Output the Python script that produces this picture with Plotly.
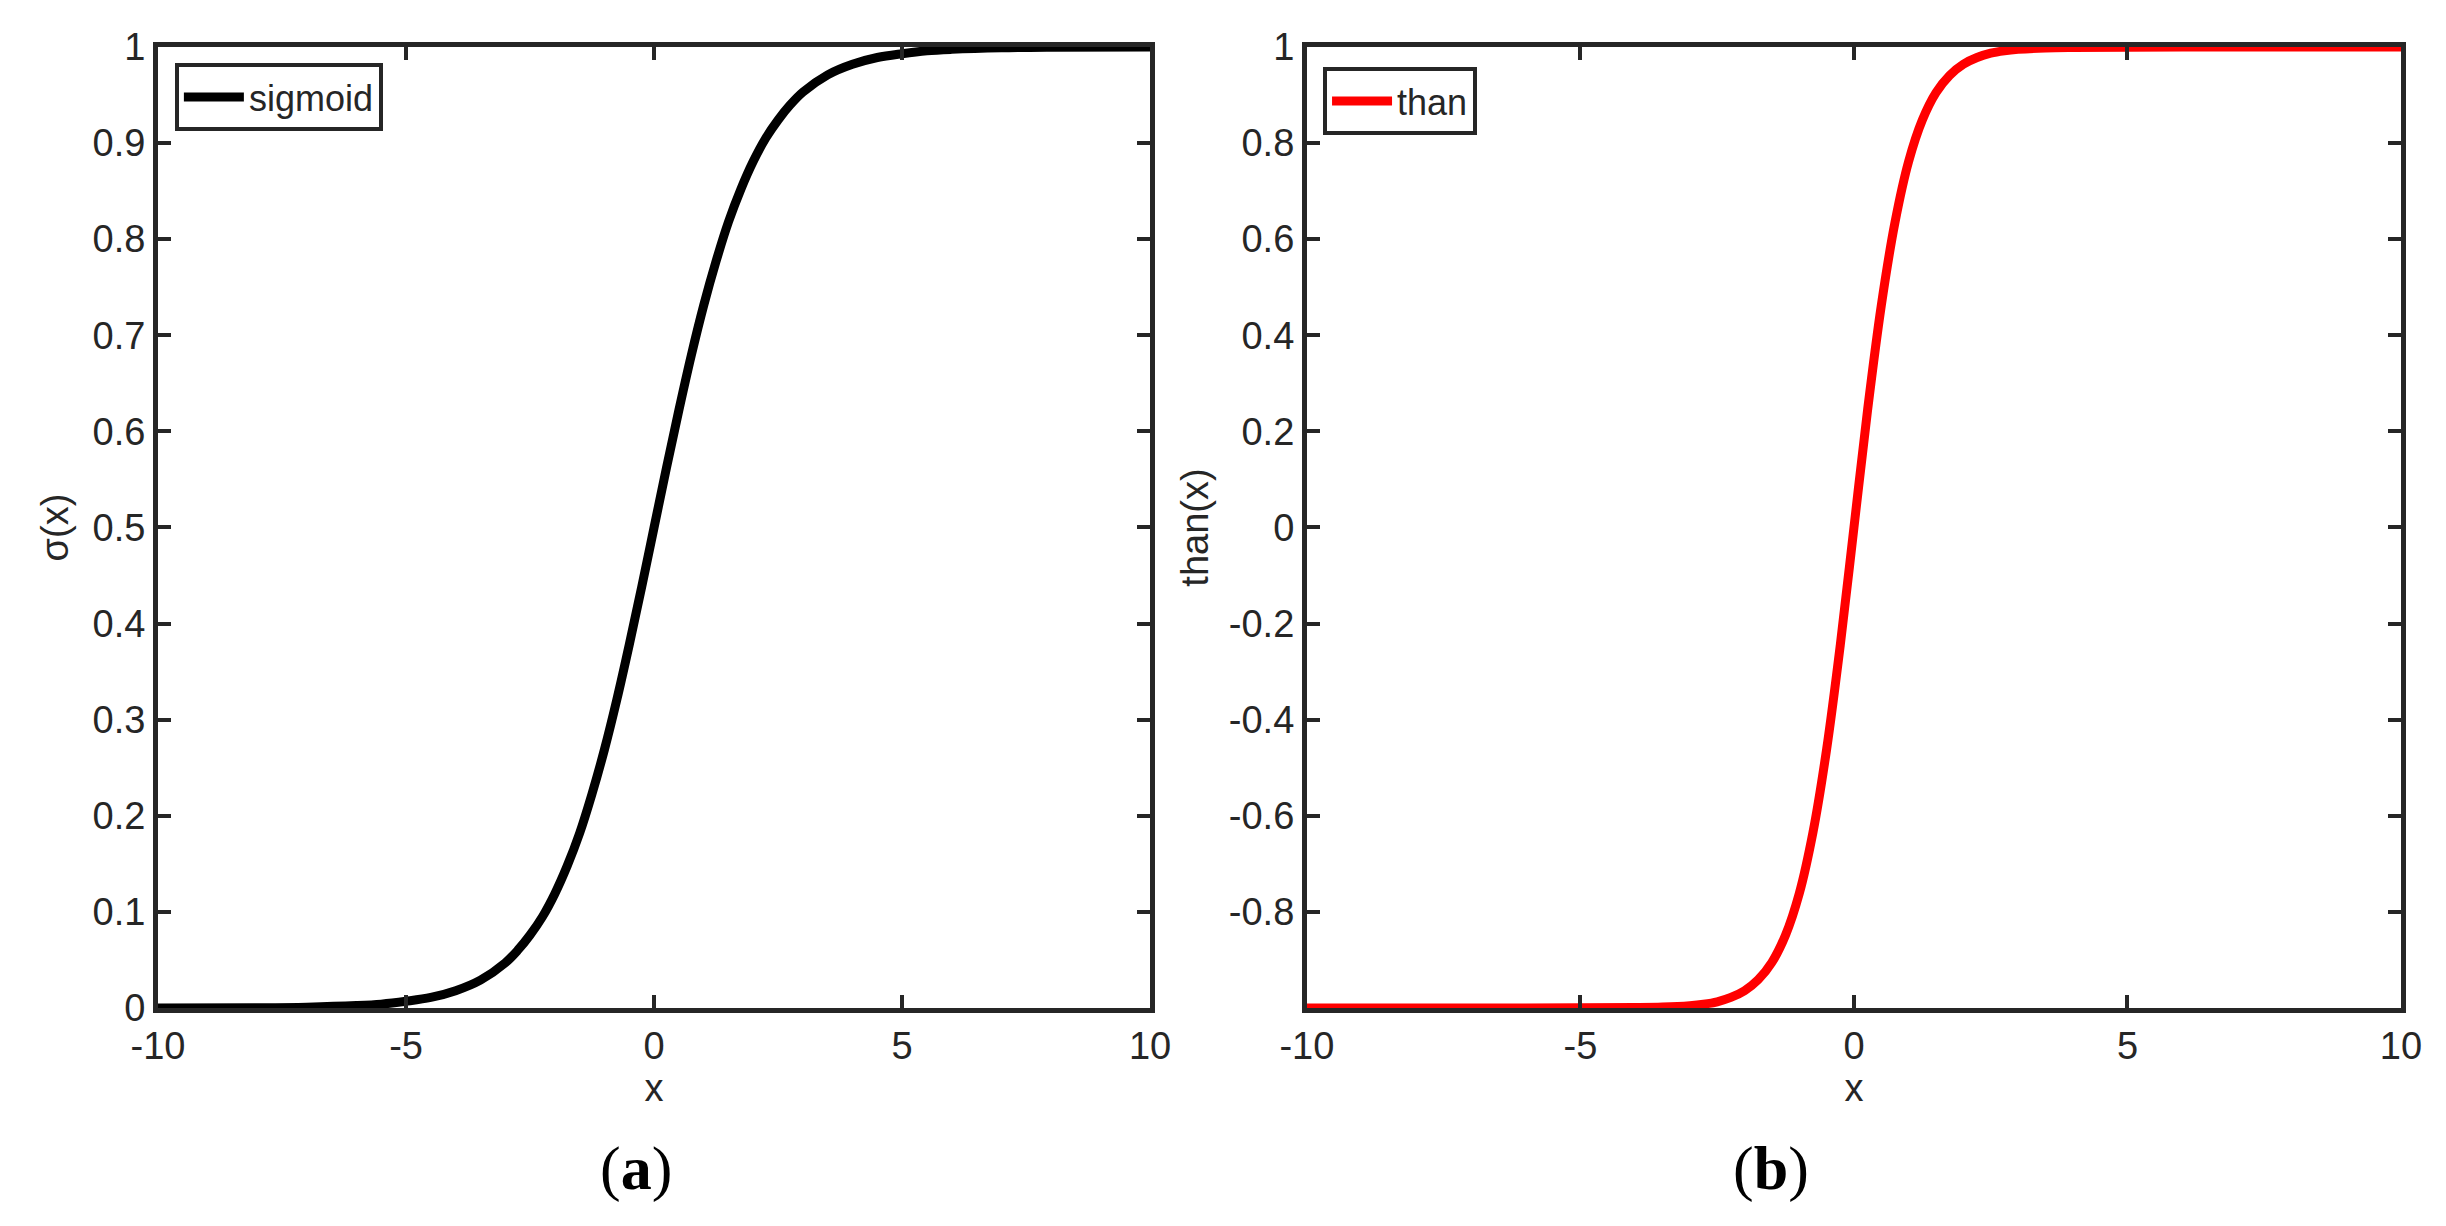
import plotly.graph_objects as go

# values
sig_x = [-10, -8, -7, -6, -5.5, -5, -4.5, -4, -3.5, -3, -2.75, -2.5, -2.25, -2, -1.75, -1.5,
         -1.25, -1, -0.75, -0.5, -0.25, 0, 0.25, 0.5, 0.75, 1, 1.25, 1.5, 1.75, 2, 2.25, 2.5,
         2.75, 3, 3.5, 4, 4.5, 5, 5.5, 6, 7, 8, 10]
sig_y = [0.0, 0.0003, 0.0009, 0.0025, 0.004, 0.007, 0.011, 0.018, 0.029, 0.047, 0.060, 0.076,
         0.095, 0.119, 0.148, 0.182, 0.223, 0.269, 0.321, 0.378, 0.438, 0.5, 0.562, 0.622,
         0.679, 0.731, 0.777, 0.818, 0.852, 0.881, 0.905, 0.924, 0.940, 0.953, 0.971, 0.982,
         0.989, 0.993, 0.996, 0.9975, 0.9991, 0.9997, 1.0]

tanh_x = [-10, -6, -4, -3.5, -3, -2.75, -2.5, -2.25, -2, -1.75, -1.5, -1.25, -1, -0.75, -0.5, -0.25, 0,
          0.25, 0.5, 0.75, 1, 1.25, 1.5, 1.75, 2, 2.25, 2.5, 2.75, 3, 3.5, 4, 6, 10]
tanh_y = [-1.0, -1.0, -0.999, -0.998, -0.995, -0.992, -0.987, -0.978, -0.964, -0.941, -0.905,
          -0.848, -0.762, -0.635, -0.462, -0.245, 0.0, 0.245, 0.462, 0.635, 0.762, 0.848, 0.905,
          0.941, 0.964, 0.978, 0.987, 0.992, 0.995, 0.998, 0.999, 1.0, 1.0]

x_ticks = [-10, -5, 0, 5, 10]
x_labels = ["-10", "-5", "0", "5", "10"]
sig_ticks = [0, 0.1, 0.2, 0.3, 0.4, 0.5, 0.6, 0.7, 0.8, 0.9, 1]
sig_labels = ["0", "0.1", "0.2", "0.3", "0.4", "0.5", "0.6", "0.7", "0.8", "0.9", "1"]
tanh_ticks = [-0.8, -0.6, -0.4, -0.2, 0, 0.2, 0.4, 0.6, 0.8, 1]
tanh_labels = ["-0.8", "-0.6", "-0.4", "-0.2", "0", "0.2", "0.4", "0.6", "0.8", "1"]

TXT = "#262626"
FONT = "Liberation Sans"

fig = go.Figure()

fig.add_trace(go.Scatter(
    x=sig_x, y=sig_y, mode="lines", name="sigmoid", showlegend=True,
    line=dict(color="black", width=9, shape="spline", smoothing=1.0),
    xaxis="x", yaxis="y", legend="legend",
))
fig.add_trace(go.Scatter(
    x=tanh_x, y=tanh_y, mode="lines", name="than", showlegend=True,
    line=dict(color="#ff0000", width=9, shape="spline", smoothing=1.0),
    xaxis="x2", yaxis="y2", legend="legend2",
))

axis_style = dict(
    showline=True, linecolor=TXT, linewidth=5, mirror="ticks",
    ticks="inside", ticklen=13, tickwidth=4, tickcolor=TXT,
    showgrid=False, zeroline=False, automargin=False,
    tickfont=dict(family=FONT, size=38, color=TXT),
)
title_font = dict(family=FONT, size=38, color=TXT)

legend_style = dict(
    xanchor="left", yanchor="top",
    bgcolor="white", bordercolor=TXT, borderwidth=4,
    font=dict(family=FONT, size=36, color=TXT),
    itemwidth=60, tracegroupgap=0,
)

fig.update_layout(
    width=2446, height=1226,
    margin=dict(l=0, r=0, t=0, b=0, autoexpand=False),
    paper_bgcolor="white", plot_bgcolor="white",
    showlegend=True,
    xaxis=dict(domain=[0.0646, 0.4702], range=[-10, 10], tickvals=x_ticks, ticktext=x_labels,
               title=dict(text="x", font=title_font, standoff=10), anchor="y", **axis_style),
    yaxis=dict(domain=[0.1778, 0.9617], range=[0, 1], tickvals=sig_ticks, ticktext=sig_labels,
               title=dict(text="σ(x)", font=title_font, standoff=14), anchor="x", **axis_style),
    xaxis2=dict(domain=[0.5343, 0.9816], range=[-10, 10], tickvals=x_ticks, ticktext=x_labels,
                title=dict(text="x", font=title_font, standoff=10), anchor="y2", **axis_style),
    yaxis2=dict(domain=[0.1778, 0.9617], range=[-1, 1], tickvals=tanh_ticks, ticktext=tanh_labels,
                title=dict(text="than(x)", font=title_font, standoff=10), anchor="x2", **axis_style),
    legend=dict(x=0.0715, y=0.9486, **legend_style),
    legend2=dict(x=0.5409, y=0.9453, **legend_style),
    annotations=[
        dict(text="(<b>a</b>)", x=0.2445, y=1 - 1168 / 1226, xref="paper", yref="paper",
             yanchor="middle", showarrow=False,
             font=dict(family="Liberation Serif", size=62, color="black")),
        dict(text="(<b>b</b>)", x=0.7405, y=1 - 1168 / 1226, xref="paper", yref="paper",
             yanchor="middle", showarrow=False,
             font=dict(family="Liberation Serif", size=62, color="black")),
    ],
)

# drop the page's default body margin so the figure sits at the window's corner
fig.write_html("out.html", config={"displayModeBar": False},
               post_script="document.body.style.margin = '0';")
